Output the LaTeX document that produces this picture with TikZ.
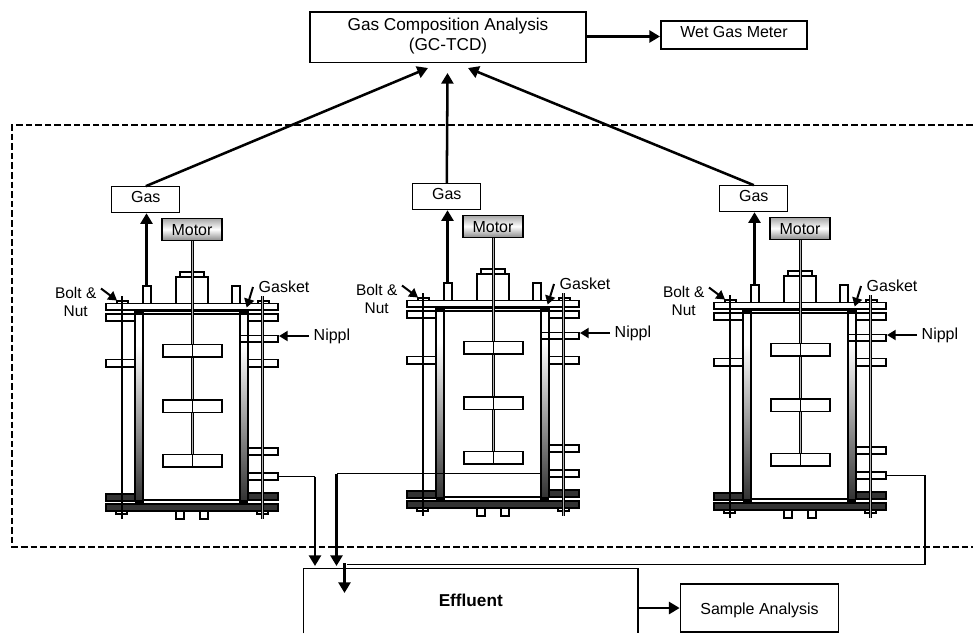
\documentclass[tikz,border=0pt]{standalone}
\usepackage{fontspec}
\setmainfont{Liberation Sans}
\usetikzlibrary{arrows.meta}
\tikzset{
  labelbox/.style={draw,thick,fill=white,inner sep=0pt},
  raised/.style={text height=8pt,text depth=4pt},
  lowered/.style={text height=10pt,text depth=0pt},
  motorbox/.style={draw,thick,top color=gray!70,bottom color=gray!90,middle color=white,inner sep=0pt},
  part/.style={draw,line width=.9pt,fill=white},
  darkpart/.style={draw,line width=.9pt,fill=black!80},
  flow/.style={->,line width=1.9pt},
  callout/.style={->,line width=1.5pt,>={Triangle[length=6.5pt,width=7.5pt]}},
  thinflow/.style={line width=.9pt},
  rod/.style={line width=.6pt,double=gray!60,double distance=1pt}
}
\begin{document}
\begin{tikzpicture}[x=0.75pt,y=-0.75pt,>={Triangle[length=8pt,width=9pt]},font=\fontsize{12}{14}\selectfont]
  \useasboundingbox (0,0) rectangle (973,633);
  % top row
  \node[labelbox,minimum width=207pt,minimum height=37.9pt,align=center,font=\fontsize{12.9}{14}\selectfont] (analysis) at (448,37.25) {Gas Composition Analysis\\[1pt](GC-TCD)\\[-9pt]\mbox{}};
  \node[labelbox,raised,minimum width=109.5pt,minimum height=21pt] (meter) at (734,35) {Wet Gas Meter};
  \coordinate (meterin) at (660,36.5);
  \draw[flow] (analysis.east |- meterin) -- (meterin);
  % dashed frame
  \draw[line width=1.6pt,dash pattern=on 5pt off 2.2pt] (973,125) -- (12,125) -- (12,547) -- (973,547);
  % reactors
  \foreach \rn/\dx/\dy in {a/0/0,b/301/-3,c/608/-1} {
    \begin{scope}[shift={(\dx,\dy)}]
      \draw[part] (143,286) rectangle (151,303.5);
      \draw[part] (232,286) rectangle (240,303.5);
      \draw[part] (176,277) rectangle (208,303.5);
      \draw[part] (180,272) rectangle (204,277);
      \coordinate (tube\rn) at (146.5,286);
      % flanges
      \draw[part] (106,303.5) rectangle (278,310);
      \draw[part] (106,314) rectangle (135,321);
      \draw[part] (248,314) rectangle (278,321);
      \draw[part] (135,311) rectangle (248,314);
      \draw[part] (106,359.5) rectangle (143,367);
      \draw[part] (240,359.5) rectangle (278,367);
      \draw[part] (240,335.5) rectangle (278,342);
      \draw[part] (240,448) rectangle (278,455);
      \draw[part] (240,473) rectangle (278,480);
      \coordinate (nipplea\rn) at (278,476.5);
      \coordinate (nippleb\rn) at (240,476.5);
      \draw[part] (143,500) rectangle (240,504);
      \draw[darkpart] (106,494) rectangle (135,501);
      \draw[darkpart] (248,493) rectangle (278,500);
      \draw[darkpart] (106,504) rectangle (278,511);
      % nuts and feet
      \draw[part] (117,301) rectangle (128,303.5);
      \draw[part] (258,301) rectangle (269,303.5);
      \draw[part] (116,511) rectangle (127,514);
      \draw[part] (257,511) rectangle (268,514);
      \draw[part] (176,511) rectangle (184,519);
      \draw[part] (200,511) rectangle (208,519);
      % bolts
      \draw[line width=1.5pt] (121.5,296) -- (121.5,519);
      \draw[rod] (262.5,296) -- (262.5,519);
      % vessel walls
      \foreach \wx in {135,240} {
        \shade[top color=white,bottom color=black!80] (\wx,345) rectangle (\wx+8,500);
        \draw[line width=.8pt] (\wx,310) -- (\wx,500) (\wx+8,310) -- (\wx+8,500);
        \fill (\wx,308.5) rectangle (\wx+8,314.5);
        \fill (\wx,500) rectangle (\wx+8,504);
      }
      % shaft and blades
      \draw[rod] (192.5,240) -- (192.5,467);
      \foreach \by in {344.5,400,454.5} {
        \draw[part] (163,\by) rectangle (222,\by+12.5);
        \draw[line width=.9pt] (192.5,\by) -- (192.5,\by+12.5);
      }
      % upper boxes
      \node[labelbox,raised,minimum width=51.2pt,minimum height=19.5pt] (gas\rn) at (145.8,199.7) {Gas};
      \node[motorbox,lowered,minimum width=45pt,minimum height=16.5pt] (motor\rn) at (192,229.3) {Motor};
      % callouts
      \node[align=center,font=\fontsize{11.6}{13.5}\selectfont] (bolt\rn) at (75.7,302) {Bolt \&\\Nut};
      \node (gasket\rn) at (284,287) {Gasket};
      \node[anchor=west] (nippl\rn) at (309,336) {Nippl};
      \coordinate (boltend\rn) at (117,300.5);
      \coordinate (gasketend\rn) at (246.7,307.5);
      \coordinate (nipplend\rn) at (279,336);
      \draw[callout] (101,288.5) -- (boltend\rn);
      \draw[callout] (253,287) -- (gasketend\rn);
      \draw[callout] (nippl\rn.west) -- (nipplend\rn);
      \draw[flow] (tube\rn) -- (tube\rn |- gas\rn.south);
    \end{scope}
  }
  % gas lines to analysis
  \coordinate (tipa) at (428,68);
  \coordinate (tipb) at (447.5,73);
  \coordinate (tipc) at (468,68);
  \draw[flow] (gasa.north) -- (tipa);
  \draw[flow] (gasb.north) -- (tipb);
  \draw[flow] (gasc.north) -- (tipc);
  % effluent
  \node[minimum width=250.5pt,minimum height=48.4pt,inner sep=0pt,font=\fontsize{12.9}{14}\selectfont\bfseries] (effluent) at (470.75,600.75) {Effluent};
  \draw[line width=1pt] (effluent.south west) -- (effluent.north west) -- (effluent.north east) -- (effluent.south east);
  \node[labelbox,lowered,minimum width=119pt,minimum height=36pt] (sample) at (759.5,608) {Sample Analysis};
  \draw[flow] (effluent.east |- sample) -- (sample.west);
  % effluent lines
  \coordinate (dropa) at (315,566);
  \coordinate (dropb) at (336.5,566);
  \coordinate (dropc) at (344.5,593);
  \draw[thinflow] (nippleaa) -- (dropa |- nippleaa);
  \draw[thinflow] (nipplebb) -- (dropb |- nipplebb);
  \draw[flow] (dropa |- nippleaa) -- (dropa);
  \draw[flow] (dropb |- nipplebb) -- (dropb);
  \draw[thinflow] (nippleac) -- (925,475.5) -- (925,564.5) -- (347,564.5);
  \draw[flow] (344.5,563) -- (dropc);
\end{tikzpicture}
\end{document}
